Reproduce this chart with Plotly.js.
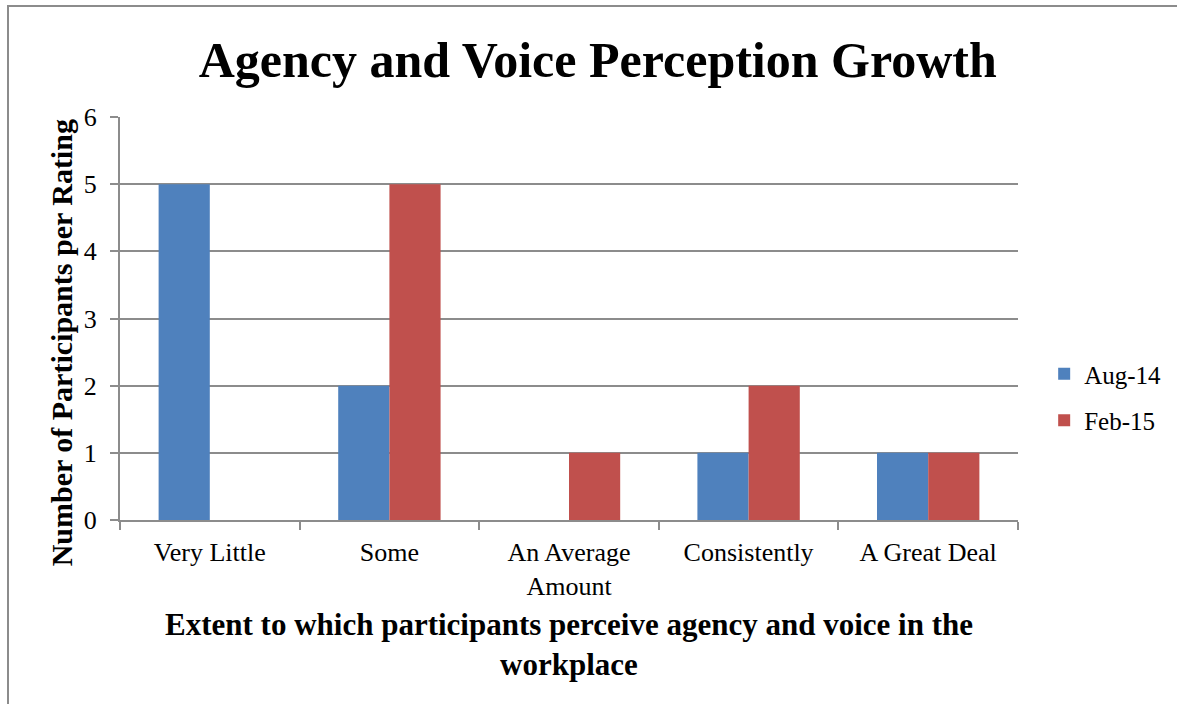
<!DOCTYPE html>
<html>
<head>
<meta charset="utf-8">
<script src="https://cdn.plot.ly/plotly-3.0.1.min.js"></script>
<style>
html, body { margin: 0; padding: 0; background: #fff; overflow: hidden; }
#frame { position: absolute; left: 7px; top: 5px; width: 1300px; height: 900px; border: 2px solid #8c8c8c; box-sizing: border-box; }
#chart { position: absolute; left: 0; top: 0; width: 1177px; height: 704px; }
</style>
</head>
<body>
<div id="frame"></div>
<div id="chart"></div>
<script>
const categories = ["Very Little", "Some", "An Average<br>Amount", "Consistently", "A Great Deal"];
const seriesNames = ["Aug-14", "Feb-15"];
const aug14 = [5, 2, 0, 1, 1];
const feb15 = [0, 5, 1, 2, 1];
const yTicks = [0, 1, 2, 3, 4, 5, 6];
const xTitleLines = ["Extent to which participants perceive agency and voice in the", "workplace"];

const serif = "Liberation Serif, DejaVu Serif, serif";
const traces = [
  { type: "bar", name: seriesNames[0], x: categories, y: aug14, legendgroup: "a",
    marker: { color: "#4F81BD", line: { width: 0 } } },
  { type: "bar", name: seriesNames[1], x: categories, y: feb15, legendgroup: "b",
    marker: { color: "#C0504D", line: { width: 0 } } }
];

const layout = {
  width: 1177, height: 704,
  paper_bgcolor: "rgba(0,0,0,0)", plot_bgcolor: "rgba(0,0,0,0)",
  margin: { l: 120, r: 158, t: 117, b: 184 },
  barmode: "group", bargap: 0.43, bargroupgap: 0,
  font: { family: serif, size: 25, color: "#000" },
  title: { text: "<b>Agency and Voice Perception Growth</b>", font: { family: serif, size: 50, color: "#000" },
           x: 0.532, xref: "paper", xanchor: "center", y: 0.915, yref: "container", yanchor: "middle" },
  xaxis: {
    type: "category", tickson: "boundaries", ticks: "outside", ticklen: 8, tickwidth: 2, tickcolor: "#8c8c8c",
    showline: true, linecolor: "#8c8c8c", linewidth: 2, showgrid: false, ticklabelstandoff: 8,
    tickfont: { family: serif, size: 26, color: "#000" }, automargin: false
  },
  yaxis: {
    range: [0, 6], tickvals: yTicks, ticks: "outside", ticklen: 8, tickwidth: 2, tickcolor: "#8c8c8c",
    showline: true, linecolor: "#8c8c8c", linewidth: 2, showgrid: true, gridcolor: "#8c8c8c", gridwidth: 2,
    zeroline: false, ticklabelstandoff: 8, tickfont: { family: serif, size: 26, color: "#000" }, automargin: false
  },
  legend: { x: 1.028, xanchor: "left", y: 0.305, yanchor: "middle", font: { family: serif, size: 25 },
            itemwidth: 30, tracegroupgap: 11 },
  annotations: [
    { text: "<b>Number of Participants per Rating</b>", textangle: -90, xref: "paper", yref: "paper",
      x: -0.065, y: 0.44, xanchor: "center", yanchor: "middle", showarrow: false,
      font: { family: serif, size: 30, color: "#000" } },
    { text: "<b>" + xTitleLines.join("<br>") + "</b>",
      xref: "paper", yref: "paper", x: 0.5, y: -0.31, xanchor: "center", yanchor: "middle", showarrow: false,
      font: { family: serif, size: 31, color: "#000" } }
  ],
  showlegend: true
};

Plotly.newPlot("chart", traces, layout, { displayModeBar: false, staticPlot: true });
</script>
</body>
</html>
